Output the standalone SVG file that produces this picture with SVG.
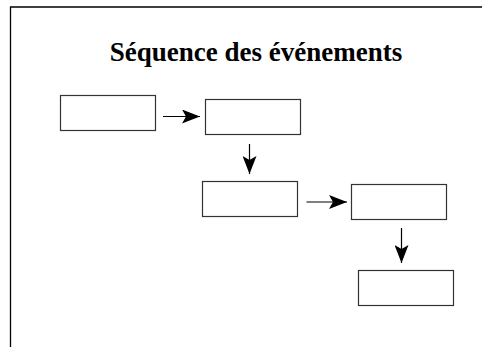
<svg xmlns="http://www.w3.org/2000/svg" width="482" height="347" viewBox="0 0 482 347">
<style>
.box{fill:#fff;stroke:#333;stroke-width:1.2}
.conn{stroke:#000;stroke-width:1.2;fill:none}
.title{font-family:"Liberation Serif","Times New Roman",serif;font-weight:bold;font-size:27px;fill:#000}
</style>
<defs>
<marker id="ah" markerWidth="18" markerHeight="14" refX="18" refY="7" orient="auto" markerUnits="userSpaceOnUse">
<path d="M0,0 L18,7 L0,14 L4,7 Z" fill="#000"/>
</marker>
</defs>
<rect width="482" height="347" fill="#fff"/>
<path d="M10.5,347 V7 H482" fill="none" stroke="#000" stroke-width="1.3"/>
<text class="title" x="256" y="61" text-anchor="middle">Séquence des événements</text>
<g id="n1"><rect class="box" x="60.5" y="95.5" width="95" height="35"/></g>
<g id="n2"><rect class="box" x="205.5" y="99.5" width="95" height="35"/></g>
<g id="n3"><rect class="box" x="202.5" y="181.5" width="95" height="35"/></g>
<g id="n4"><rect class="box" x="351.5" y="184.5" width="95" height="35"/></g>
<g id="n5"><rect class="box" x="358.5" y="270.5" width="95" height="35"/></g>
<g id="connectors">
<line class="conn" x1="163" y1="116.5" x2="200" y2="116.5" marker-end="url(#ah)"/>
<line class="conn" x1="249.5" y1="144" x2="249.5" y2="174" marker-end="url(#ah)"/>
<line class="conn" x1="306.5" y1="202" x2="347" y2="202" marker-end="url(#ah)"/>
<line class="conn" x1="401.5" y1="228" x2="401.5" y2="263" marker-end="url(#ah)"/>
</g>
</svg>
